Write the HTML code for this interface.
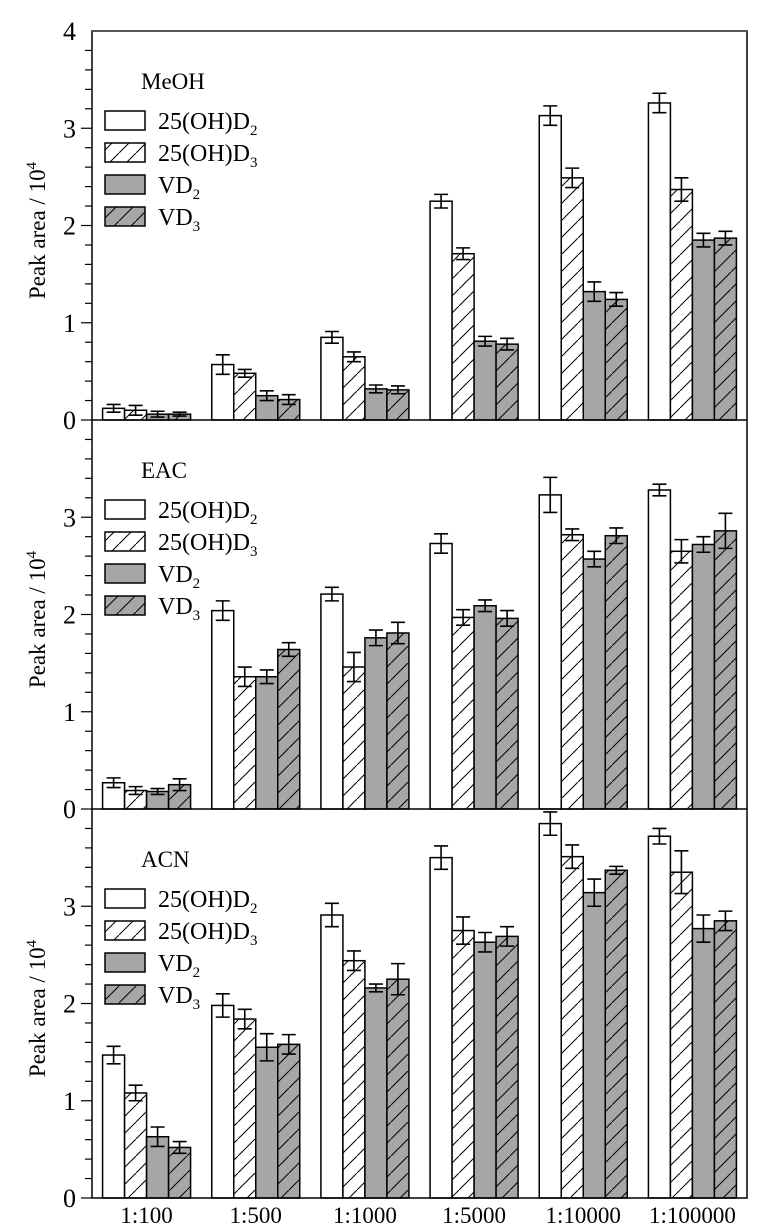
<!DOCTYPE html>
<html><head><meta charset="utf-8"><style>
html,body{margin:0;padding:0;background:#fff;}
svg{display:block;font-family:"Liberation Serif",serif;}
</style></head><body>
<svg id="chart" width="765" height="1228" viewBox="0 0 765 1228" xmlns="http://www.w3.org/2000/svg">
<defs>
<pattern id="hatchW" patternUnits="userSpaceOnUse" width="17" height="17">
<rect width="17" height="17" fill="#fff"/><path d="M-1,18 L18,-1" stroke="#000" stroke-width="1"/>
</pattern>
<pattern id="hatchG" patternUnits="userSpaceOnUse" width="17" height="17">
<rect width="17" height="17" fill="#a6a6a6"/><path d="M-1,18 L18,-1" stroke="#000" stroke-width="1"/>
</pattern>
</defs>
<g id="root"></g>
</svg>
<script>
const categories=["1:100","1:500","1:1000","1:5000","1:10000","1:100000"];
const seriesNames=["25(OH)D","25(OH)D","VD","VD"];
const seriesSubs=["2","3","2","3"];
const panelNames=["MeOH","EAC","ACN"];
const meohD2=[0.12,0.57,0.85,2.25,3.13,3.26];
const meohD3=[0.10,0.48,0.65,1.71,2.49,2.37];
const meohVD2=[0.06,0.25,0.32,0.81,1.32,1.85];
const meohVD3=[0.06,0.21,0.31,0.78,1.24,1.87];
const meohErr=[[0.04,0.1,0.06,0.07,0.1,0.1],[0.05,0.04,0.05,0.06,0.1,0.12],[0.03,0.05,0.04,0.05,0.1,0.07],[0.02,0.05,0.04,0.06,0.07,0.07]];
const eacD2=[0.27,2.04,2.21,2.73,3.23,3.28];
const eacD3=[0.19,1.36,1.46,1.97,2.82,2.65];
const eacVD2=[0.18,1.36,1.76,2.09,2.57,2.72];
const eacVD3=[0.25,1.64,1.81,1.96,2.81,2.86];
const eacErr=[[0.05,0.1,0.07,0.1,0.18,0.06],[0.04,0.1,0.15,0.08,0.06,0.12],[0.03,0.07,0.08,0.06,0.08,0.08],[0.06,0.07,0.11,0.08,0.08,0.18]];
const acnD2=[1.47,1.98,2.91,3.50,3.85,3.72];
const acnD3=[1.08,1.84,2.44,2.75,3.51,3.35];
const acnVD2=[0.63,1.55,2.16,2.63,3.14,2.77];
const acnVD3=[0.52,1.58,2.25,2.69,3.37,2.85];
const acnErr=[[0.09,0.12,0.12,0.12,0.12,0.08],[0.08,0.1,0.1,0.14,0.12,0.22],[0.1,0.14,0.04,0.1,0.14,0.14],[0.06,0.1,0.16,0.1,0.04,0.1]];
const yTicks=[0,1,2,3,4];

const panels=[[meohD2,meohD3,meohVD2,meohVD3,meohErr],[eacD2,eacD3,eacVD2,eacVD3,eacErr],[acnD2,acnD3,acnVD2,acnVD3,acnErr]];
const NS="http://www.w3.org/2000/svg";
const root=document.getElementById('root');
const X0=92,X1=747,TOP=31,PH=389,YMAX=4;
const band=(X1-X0)/categories.length, bw=22;
const fills=["#fff","url(#hatchW)","#a6a6a6","url(#hatchG)"];
function el(t,a,p){const e=document.createElementNS(NS,t);for(const k in a)e.setAttribute(k,a[k]);(p||root).appendChild(e);return e;}
function xPos(ci,si){return X0+band*ci+band/2-2*bw+si*bw;}
function yPos(p,v){return TOP+PH*(p+1)-v/YMAX*PH;}

panels.forEach((pd,p)=>{
  const g=el('g',{});
  
  
  for(let s=0;s<4;s++){
    for(let c=0;c<categories.length;c++){
      const v=pd[s][c],e=pd[4][s][c];
      const x=xPos(c,s),y=yPos(p,v),y0=yPos(p,0);
      const r=el('rect',{x:x,y:y,width:bw,height:y0-y,fill:fills[s],stroke:'#000','stroke-width':1.5},g);
      
      
      const cx=x+bw/2,yt=yPos(p,v+e),yb=yPos(p,v-e);
      const eb=el('path',{d:`M${cx},${yt}V${yb}M${cx-7},${yt}H${cx+7}M${cx-7},${yb}H${cx+7}`,stroke:'#000','stroke-width':1.6,fill:'none'},g);
      
      
    }
  }
  for(let k=0;k<20;k++){
    const v=k*0.2, y=yPos(p,v);
    const major=(k%5===0);
    el('line',{x1:major?81:85,x2:X0,y1:y,y2:y,stroke:'#000','stroke-width':1.2},g);
  }
  yTicks.forEach(t=>{
    if(t===4&&p>0)return;
    const tx=el('text',{x:76,y:yPos(p,t)+9,'text-anchor':'end','font-size':26},g);
    tx.textContent=t;
    
    
  });
  const cy=TOP+PH*p+PH/2+5;
  const yt=el('text',{x:0,y:0,'font-size':23,'text-anchor':'middle',transform:`translate(45,${cy}) rotate(-90)`},g);
  yt.innerHTML='Peak area / 10<tspan dy="-9" font-size="15">4</tspan>';
  
  
  const sl=el('text',{x:141,y:TOP+PH*p+58,'font-size':23},g);
  sl.textContent=panelNames[p];
  
  
  for(let s=0;s<4;s++){
    const ly=TOP+PH*p+80+s*32;
    const lg=el('g',{},g);
    
    
    el('rect',{x:105,y:ly,width:40,height:19,fill:fills[s],stroke:'#000','stroke-width':1.5},lg);
    const t=el('text',{x:158,y:ly+18,'font-size':24},lg);
    t.innerHTML=seriesNames[s]+'<tspan dy="6" font-size="15">'+seriesSubs[s]+'</tspan>';
  }
});
const fr=el('rect',{x:X0,y:TOP,width:X1-X0,height:PH*3,fill:'none',stroke:'#000','stroke-width':1.5});


for(let p=1;p<3;p++){el('line',{x1:X0,x2:X1,y1:TOP+PH*p,y2:TOP+PH*p,stroke:'#000','stroke-width':1.5});}
el('line',{x1:X0,x2:X1,y1:TOP,y2:TOP,stroke:'#555','stroke-width':2});
categories.forEach((c,i)=>{
  const t=el('text',{x:X0+band*i+band/2,y:1223,'text-anchor':'middle','font-size':23});
  t.textContent=c;
  
  
});
</script>
</body></html>
